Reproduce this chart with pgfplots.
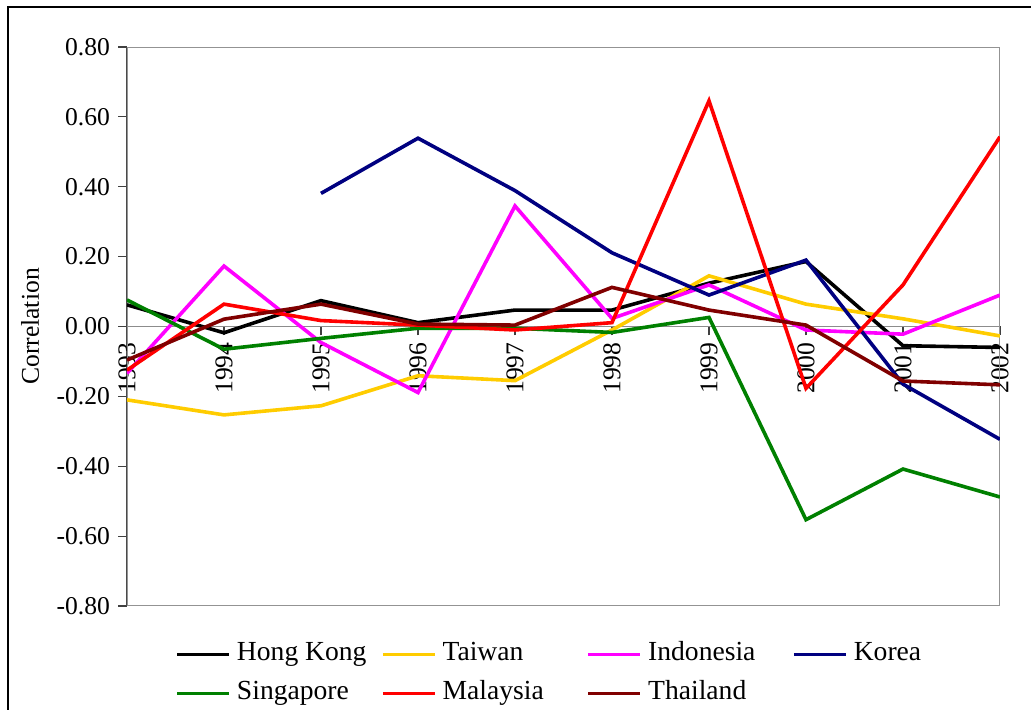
\documentclass[border=0pt]{standalone}
\usepackage{fontspec}
\setmainfont{Liberation Serif}
\usepackage{pgfplots}
\pgfplotsset{compat=1.18}
\definecolor{hk}{RGB}{0,0,0}
\definecolor{tw}{RGB}{255,204,0}
\definecolor{ind}{RGB}{255,0,255}
\definecolor{kor}{RGB}{0,0,128}
\definecolor{sgp}{RGB}{0,128,0}
\definecolor{mys}{RGB}{255,0,0}
\definecolor{tha}{RGB}{128,0,0}
\begin{document}
\begin{tikzpicture}
\begin{axis}[
  scale only axis, width=436.5pt, height=279.5pt,
  at={(0,0)}, anchor=south west,
  xmin=1993, xmax=2002, ymin=-0.8, ymax=0.8,
  axis x line*=middle, axis y line*=left,
  hide obscured x ticks=false,
  x axis line style={gray!90, line width=0.8pt},
  y axis line style={black!75, line width=0.8pt},
  tick align=outside, major tick length=4.5pt,
  tick style={black!75, line width=0.6pt},
  xtick=data,
  ytick={-0.8,-0.6,-0.4,-0.2,0,0.2,0.4,0.6,0.8},
  /pgf/number format/assume math mode=true,
  yticklabel style={font=\fontsize{12.8}{14}\selectfont,
    /pgf/number format/fixed, /pgf/number format/fixed zerofill,
    /pgf/number format/precision=2, xshift=-0.5pt},
  xticklabel style={font=\fontsize{12.8}{14}\selectfont, rotate=90, anchor=east,
    /pgf/number format/1000 sep={}},
  ylabel={Correlation},
  ylabel style={at={(axis description cs:-0.111,0.5)}, anchor=center, rotate=0,
    font=\fontsize{12.8}{14}\selectfont},
  every axis plot/.append style={line width=1.8pt, no markers},
  legend columns=4,
  legend image code/.code={\draw[#1] (0pt,0pt) -- (26pt,0pt);},
  legend style={at={(axis description cs:0.0481,-0.054)}, anchor=north west,
    draw=none, fill=none, column sep=0pt, row sep=5.5pt,
    font=\fontsize{13.8}{15}\selectfont,
    nodes={inner sep=1pt, text height=9pt, text depth=3pt},
    /tikz/every odd column/.append style={column sep=2pt}},
  legend cell align=left,
]
\draw[gray!85, line width=0.8pt] (rel axis cs:0,0) rectangle (rel axis cs:1,1);

\addplot[hk] coordinates {
  (1993,0.062) (1994,-0.018) (1995,0.074) (1996,0.011) (1997,0.047)
  (1998,0.047) (1999,0.124) (2000,0.186) (2001,-0.055) (2002,-0.060)
};
\addlegendentry{\makebox[71pt][l]{Hong Kong}}

\addplot[tw] coordinates {
  (1993,-0.210) (1994,-0.253) (1995,-0.227) (1996,-0.141) (1997,-0.155)
  (1998,-0.010) (1999,0.145) (2000,0.064) (2001,0.022) (2002,-0.027)
};
\addlegendentry{\makebox[71pt][l]{Taiwan}}

\addplot[ind] coordinates {
  (1993,-0.134) (1994,0.173) (1995,-0.046) (1996,-0.189) (1997,0.345)
  (1998,0.023) (1999,0.119) (2000,-0.010) (2001,-0.022) (2002,0.090)
};
\addlegendentry{\makebox[71pt][l]{Indonesia}}

\addplot[kor] coordinates {
  (1995,0.381) (1996,0.539) (1997,0.389)
  (1998,0.211) (1999,0.090) (2000,0.190) (2001,-0.165) (2002,-0.323)
};
\addlegendentry{\makebox[71pt][l]{Korea}}

\addplot[sgp] coordinates {
  (1993,0.076) (1994,-0.065) (1995,-0.034) (1996,-0.005) (1997,-0.005)
  (1998,-0.017) (1999,0.026) (2000,-0.553) (2001,-0.408) (2002,-0.488)
};
\addlegendentry{\makebox[71pt][l]{Singapore}}

\addplot[mys] coordinates {
  (1993,-0.125) (1994,0.064) (1995,0.017) (1996,0.004) (1997,-0.010)
  (1998,0.011) (1999,0.646) (2000,-0.177) (2001,0.119) (2002,0.543)
};
\addlegendentry{\makebox[71pt][l]{Malaysia}}

\addplot[tha] coordinates {
  (1993,-0.096) (1994,0.021) (1995,0.064) (1996,0.007) (1997,0.004)
  (1998,0.112) (1999,0.047) (2000,0.004) (2001,-0.156) (2002,-0.167)
};
\addlegendentry{\makebox[71pt][l]{Thailand}}
\end{axis}
\draw[line width=1pt] (-59.5pt,-80pt) rectangle (480pt,299.5pt);
\pgfresetboundingbox
\path[use as bounding box] (-63.5pt,-52pt) rectangle (452pt,303pt);
\end{tikzpicture}
\end{document}
